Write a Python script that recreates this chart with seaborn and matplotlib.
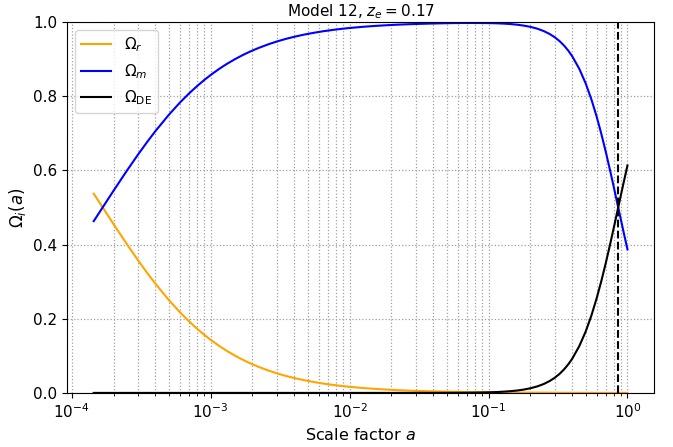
import matplotlib
matplotlib.use("Agg")
import matplotlib.pyplot as plt
import seaborn as sns

# Scale factor samples
scale_factor = [1.44e-4, 1.7e-4, 2e-4, 2.5e-4, 3e-4, 3.5e-4, 4e-4, 5e-4, 6e-4, 7e-4,
                8e-4, 9e-4, 1e-3, 1.15e-3, 1.3e-3, 1.5e-3, 1.7e-3, 1.9e-3, 2.2e-3, 2.6e-3,
                3e-3, 3.5e-3, 4e-3, 4.7e-3, 5.5e-3, 6.4e-3, 7.5e-3, 8.7e-3, 1e-2, 1.25e-2,
                1.5e-2, 1.8e-2, 2.2e-2, 2.7e-2, 3.2e-2, 3.9e-2, 4.6e-2, 5.6e-2, 6.8e-2, 8e-2,
                0.1, 0.115, 0.13, 0.145, 0.16, 0.18, 0.2, 0.225, 0.25, 0.275,
                0.3, 0.325, 0.35, 0.375, 0.4, 0.45, 0.5, 0.55, 0.6, 0.65,
                0.7, 0.75, 0.8, 0.85, 0.9, 0.95, 1.0]

omega_r = [0.5370, 0.4956, 0.4550, 0.4005, 0.3576, 0.3230, 0.2945, 0.2504, 0.2177, 0.1926,
           0.1727, 0.1565, 0.1431, 0.1268, 0.1138, 0.1002, 0.0895, 0.0808, 0.0706, 0.0604,
           0.0527, 0.0455, 0.0401, 0.0343, 0.0295, 0.0254, 0.0218, 0.0188, 0.0164, 0.0132,
           0.0110, 0.0092, 0.0075, 0.0061, 0.0052, 0.0043, 0.0036, 0.0030, 0.0024, 0.0021,
           0.0017, 0.0014, 0.0013, 0.0011, 0.0010, 0.0009, 0.0008, 0.0007, 0.0007, 0.0006,
           0.0005, 0.0005, 0.0004, 0.0004, 0.0004, 0.0003, 0.0003, 0.0003, 0.0002, 0.0002,
           0.0002, 0.0002, 0.0002, 0.0002, 0.0002, 0.0002, 0.0001]

omega_m = [0.4630, 0.5044, 0.5450, 0.5995, 0.6424, 0.6770, 0.7055, 0.7496, 0.7823, 0.8074,
           0.8273, 0.8435, 0.8569, 0.8732, 0.8862, 0.8998, 0.9105, 0.9192, 0.9294, 0.9396,
           0.9473, 0.9545, 0.9599, 0.9657, 0.9705, 0.9746, 0.9782, 0.9812, 0.9836, 0.9868,
           0.9890, 0.9908, 0.9925, 0.9938, 0.9947, 0.9956, 0.9962, 0.9968, 0.9971, 0.9971,
           0.9968, 0.9962, 0.9953, 0.9941, 0.9925, 0.9899, 0.9867, 0.9816, 0.9752, 0.9675,
           0.9585, 0.9480, 0.9360, 0.9225, 0.9076, 0.8736, 0.8345, 0.7912, 0.7449, 0.6967,
           0.6479, 0.5994, 0.5521, 0.5068, 0.4641, 0.4240, 0.3870]

omega_de = [0.0, 0.0, 0.0, 0.0, 0.0, 0.0, 0.0, 0.0, 0.0, 0.0,
            0.0, 0.0, 0.0, 0.0, 0.0, 0.0, 0.0, 0.0, 0.0, 0.0,
            0.0, 0.0, 0.0, 0.0, 0.0, 0.0, 0.0, 0.0, 0.0, 0.0,
            0.0, 0.0, 0.0, 0.0, 0.0001, 0.0001, 0.0002, 0.0003, 0.0005, 0.0008,
            0.0016, 0.0024, 0.0035, 0.0048, 0.0064, 0.0091, 0.0125, 0.0177, 0.0241, 0.0319,
            0.0410, 0.0515, 0.0636, 0.0771, 0.0920, 0.1261, 0.1652, 0.2085, 0.2549, 0.3031,
            0.3520, 0.4005, 0.4478, 0.4930, 0.5359, 0.5759, 0.6130]

series_labels = [r"$\Omega_r$", r"$\Omega_m$", r"$\Omega_{\rm DE}$"]
series_colors = ["orange", "blue", "black"]
y_ticks = [0.0, 0.2, 0.4, 0.6, 0.8, 1.0]
z_e = 0.17
a_e = 1.0 / (1.0 + z_e)

fig, ax = plt.subplots(figsize=(6.73, 4.47), dpi=100)

for vals, lab, col in zip([omega_r, omega_m, omega_de], series_labels, series_colors):
    sns.lineplot(x=scale_factor, y=vals, color=col, label=lab, ax=ax, linewidth=1.5)

ax.axvline(a_e, color="black", linestyle="--", linewidth=1.5)

ax.set_xscale("log")
ax.set_ylim(0, 1)
ax.set_yticks(y_ticks)
ax.tick_params(axis="both", which="major", labelsize=11)
ax.set_xlabel("Scale factor $a$", fontsize=11.5)
ax.set_ylabel(r"$\Omega_i(a)$", fontsize=12)
ax.set_title(f"Model 12, $z_e = {z_e}$", fontsize=11, pad=4)
ax.grid(True, which="both", linestyle=":", color="#a0a0a0", linewidth=0.9)
ax.legend(loc="upper left", fontsize=11)

fig.subplots_adjust(left=0.0996, right=0.972, bottom=0.121, top=0.951)
fig.savefig("out.png", dpi=100)
